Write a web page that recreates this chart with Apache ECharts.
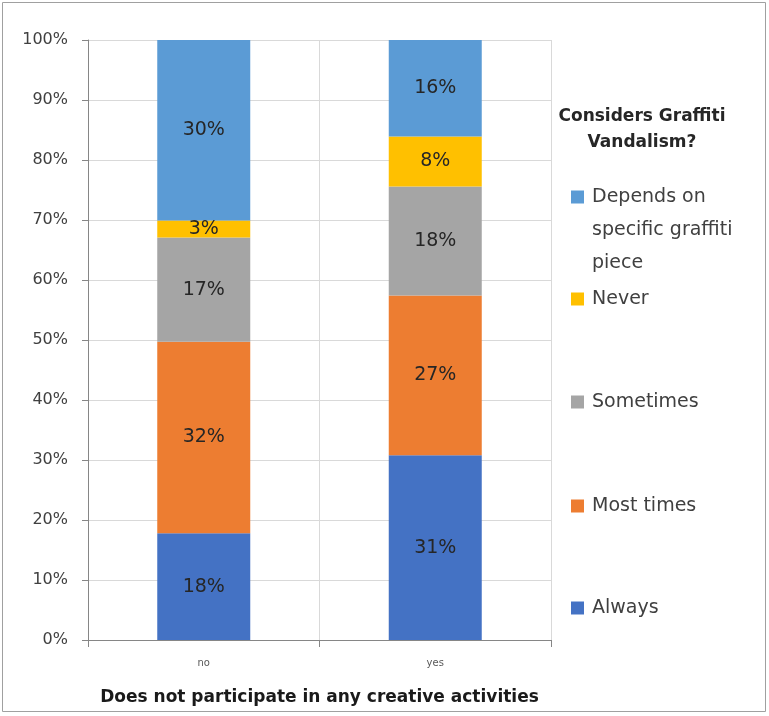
<!DOCTYPE html>
<html>
<head>
<meta charset="utf-8">
<script src="https://cdn.jsdelivr.net/npm/echarts@6/dist/echarts.min.js"></script>
<style>
html,body{margin:0;padding:0;background:#fff;}
#chart{width:769px;height:716px;}
</style>
</head>
<body>
<div id="chart"></div>
<script>
var categories = ['no', 'yes'];
var seriesNames = ['Always', 'Most times', 'Sometimes', 'Never', 'Depends on specific graffiti piece'];
var always = [17.8, 30.8];
var mostTimes = [31.9, 26.6];
var sometimes = [17.4, 18.2];
var never = [2.8, 8.3];
var depends = [30.1, 16.1];
var yTicks = [0, 10, 20, 30, 40, 50, 60, 70, 80, 90, 100];
var colors = ['#4472C4', '#ED7D31', '#A5A5A5', '#FFC000', '#5B9BD5'];

var FONT = '"DejaVu Sans"';
var chart = echarts.init(document.getElementById('chart'), null, {renderer: 'canvas'});

var dataSets = [always, mostTimes, sometimes, never, depends];
var series = dataSets.map(function (d, i) {
  return {
    name: seriesNames[i],
    type: 'bar',
    stack: 'total',
    barWidth: 93,
    data: d,
    itemStyle: {color: colors[i]},
    label: {
      show: true,
      position: 'inside',
      formatter: function (p) { return Math.round(p.value) + '%'; },
      fontFamily: FONT,
      fontSize: 19,
      color: '#262626'
    }
  };
});

var legendCenters = [608, 506, 402, 299];
var legends = [];
for (var i = 0; i < 4; i++) {
  legends.push({
    orient: 'vertical',
    left: 571,
    top: legendCenters[i] - 11,
    padding: 0,
    itemWidth: 13,
    itemHeight: 13,
    icon: 'rect',
    data: [seriesNames[i]],
    selectedMode: false,
    textStyle: {fontFamily: FONT, fontSize: 19, color: '#404040', lineHeight: 22, padding: [0, 0, 0, 3]}
  });
}
legends.push({
  orient: 'vertical',
  left: 571,
  top: 197 - 16.5,
  padding: 0,
  itemWidth: 13,
  itemHeight: 99,
  icon: 'path://M0,0h0.01v0.01h-0.01z M0,10h13v13h-13z M0,98.99h0.01v0.01h-0.01z',
  data: [seriesNames[4]],
  selectedMode: false,
  formatter: function () { return 'Depends on\nspecific graffiti\npiece'; },
  textStyle: {fontFamily: FONT, fontSize: 19, color: '#404040', lineHeight: 33, padding: [0, 0, 0, 3]}
});

chart.setOption({
  animation: false,
  backgroundColor: '#ffffff',
  title: {
    text: 'Considers Graffiti\nVandalism?',
    left: 642,
    top: 104,
    textAlign: 'center',
    padding: 0,
    textStyle: {fontFamily: FONT, fontSize: 17, fontWeight: 'bold', color: '#262626', lineHeight: 26}
  },
  legend: legends,
  grid: {left: 88, right: 218, top: 40, bottom: 76, containLabel: false},
  xAxis: {
    type: 'category',
    data: categories,
    name: 'Does not participate in any creative activities',
    nameLocation: 'middle',
    nameGap: 49,
    nameTextStyle: {fontFamily: FONT, fontSize: 17, fontWeight: 'bold', color: '#1a1a1a'},
    axisLine: {show: true, lineStyle: {color: '#868686', width: 1}},
    axisTick: {show: true, length: 7, lineStyle: {color: '#868686'}},
    axisLabel: {fontFamily: FONT, fontSize: 10, color: '#595959', margin: 18},
    splitLine: {show: true, lineStyle: {color: '#d9d9d9', width: 1}}
  },
  yAxis: {
    type: 'value',
    min: 0,
    max: 100,
    interval: 10,
    axisLine: {show: true, lineStyle: {color: '#868686', width: 1}},
    axisTick: {show: true, length: 6, lineStyle: {color: '#868686'}},
    axisLabel: {
      fontFamily: FONT, fontSize: 16, color: '#404040', margin: 20,
      formatter: function (v) { return yTicks.indexOf(v) >= 0 ? v + '%' : ''; }
    },
    splitLine: {show: true, lineStyle: {color: '#d9d9d9', width: 1}}
  },
  graphic: [{
    type: 'rect',
    shape: {x: 2.5, y: 2.5, width: 763, height: 709},
    style: {fill: 'none', stroke: '#a0a0a0', lineWidth: 1},
    silent: true,
    z: 100
  }],
  series: series
});
</script>
</body>
</html>
